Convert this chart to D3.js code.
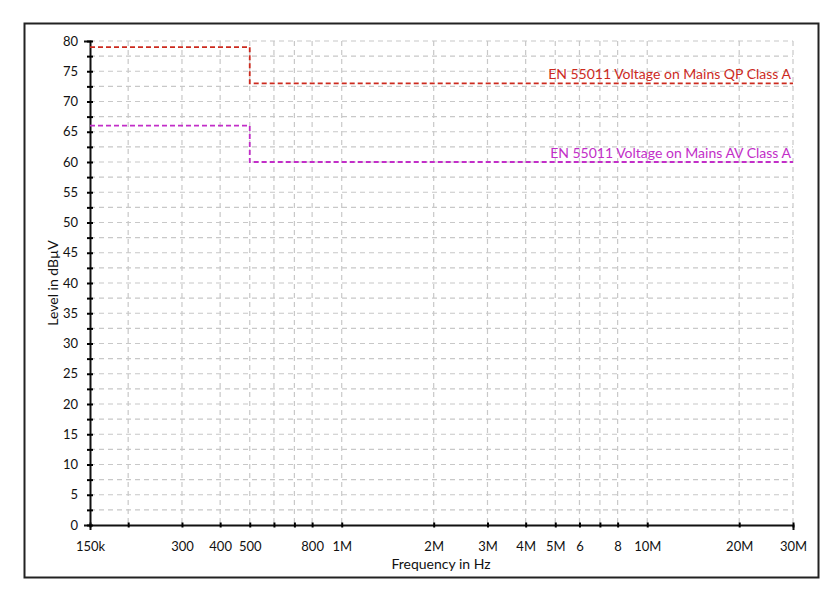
<!DOCTYPE html>
<html><head><meta charset="utf-8">
<script src="https://cdn.jsdelivr.net/npm/d3@7"></script>
<style>body{margin:0;background:#fff;font-family:Lato,"Open Sans",sans-serif}</style>
</head><body>
<svg id="chart"></svg>
<script>
// data
let xTicks = [150e3, 200e3, 300e3, 400e3, 500e3, 600e3, 700e3, 800e3, 1e6, 2e6, 3e6, 4e6, 5e6, 6e6, 7e6, 8e6, 10e6, 20e6, 30e6]
let xTickLabels = ['150k', '', '300', '400', '500', '', '', '800', '1M', '2M', '3M', '4M', '5M', '6', '', '8', '10M', '20M', '30M']
let qpFreq = [150e3, 500e3, 500e3, 30e6]
let qpLevel = [79, 79, 73, 73]
let avFreq = [150e3, 500e3, 500e3, 30e6]
let avLevel = [66, 66, 60, 60]

let width = 840, height = 590
let padLeft = 90, padRight = 793, padTop = 41, padBottom = 525

let svg = d3.select('#chart').attr('width', width).attr('height', height)

svg.append('rect').attr('x', 24.5).attr('y', 23.5).attr('width', 794).attr('height', 554)
   .attr('fill', 'none').attr('stroke', '#222').attr('stroke-width', 2)

let xScale = d3.scaleLog().domain([150e3, 30e6]).range([padLeft, padRight])
let yScale = d3.scaleLinear().domain([0, 80]).range([padBottom, padTop])

// grid
let grid = svg.append('g').attr('stroke', '#c8c8c8').attr('stroke-dasharray', '5,4').attr('stroke-width', 1.2)
xTicks.slice(1).forEach(f => {
  grid.append('line').attr('x1', xScale(f)).attr('x2', xScale(f)).attr('y1', padTop).attr('y2', padBottom)
})
d3.range(2.5, 80.1, 2.5).forEach(v => {
  grid.append('line').attr('x1', padLeft).attr('x2', padRight).attr('y1', yScale(v)).attr('y2', yScale(v))
})

// axes
let xAxis = d3.axisBottom(xScale).tickValues(xTicks).tickSize(5).tickPadding(12)
  .tickFormat((d, i) => xTickLabels[i])
let gx = svg.append('g').attr('transform', 'translate(0,' + padBottom + ')').call(xAxis)
gx.selectAll('line').attr('transform', 'translate(0,-2.5)').attr('stroke-width', 2)
let yAxis = d3.axisLeft(yScale).tickValues(d3.range(0, 80.1, 2.5)).tickSize(6).tickPadding(6)
  .tickFormat(d => d % 5 === 0 ? d : '')
let gy = svg.append('g').attr('transform', 'translate(' + padLeft + ',0)').call(yAxis)
gy.selectAll('line').attr('transform', 'translate(3,0)').attr('stroke-width', 2)
;[gx, gy].forEach(g => {
  g.select('.domain').attr('stroke', '#111').attr('stroke-width', 2)
  g.selectAll('text').attr('font-size', 13).attr('fill', '#111').attr('font-family', 'Lato, sans-serif')
})

// limit lines
let line = d3.line().x(d => xScale(d[0])).y(d => yScale(d[1]))
svg.append('path').datum(qpFreq.map((f, i) => [f, qpLevel[i]])).attr('d', line)
   .attr('fill', 'none').attr('stroke', '#cc2a1e').attr('stroke-width', 1.8).attr('stroke-dasharray', '5,3')
svg.append('path').datum(avFreq.map((f, i) => [f, avLevel[i]])).attr('d', line)
   .attr('fill', 'none').attr('stroke', '#c22ec8').attr('stroke-width', 1.8).attr('stroke-dasharray', '5,3')

svg.append('text').attr('x', 791).attr('y', yScale(73) - 4).attr('text-anchor', 'end')
   .attr('font-size', 14).attr('fill', '#cc2a1e').text('EN 55011 Voltage on Mains QP Class A')
svg.append('text').attr('x', 791).attr('y', yScale(60) - 4).attr('text-anchor', 'end')
   .attr('font-size', 14).attr('fill', '#c22ec8').text('EN 55011 Voltage on Mains AV Class A')

// axis titles
svg.append('text').attr('x', 441).attr('y', 569).attr('text-anchor', 'middle')
   .attr('font-size', 14).attr('fill', '#111').text('Frequency in Hz')
svg.append('text').attr('transform', 'translate(58,' + yScale(40) + ') rotate(-90)')
   .attr('text-anchor', 'middle').attr('font-size', 14).attr('fill', '#111').text('Level in dBµV')
</script>
</body></html>
